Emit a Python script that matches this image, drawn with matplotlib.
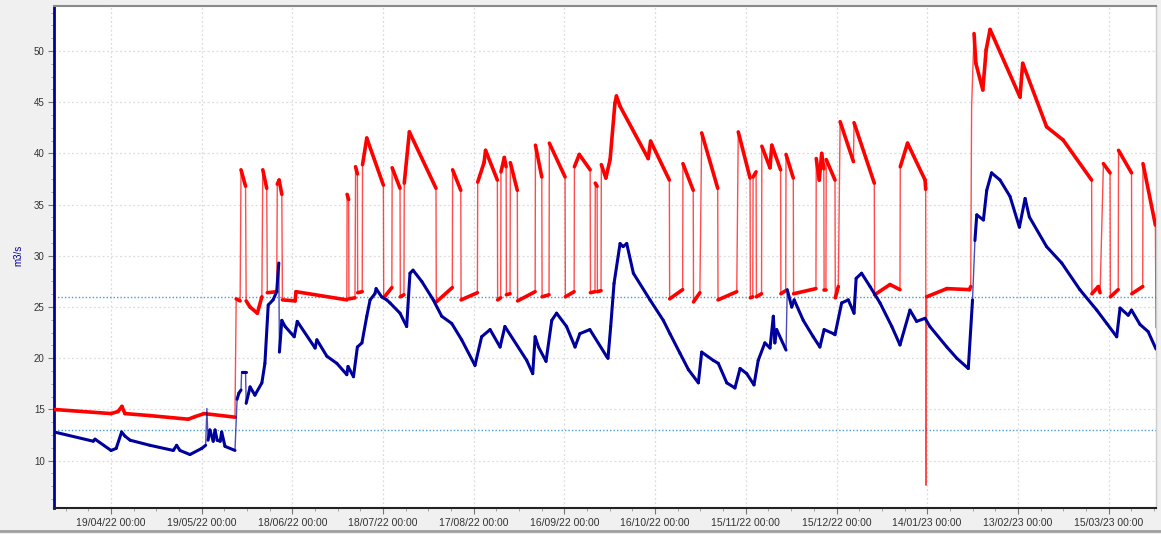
import numpy as np
import matplotlib
matplotlib.use('Agg')
import matplotlib.pyplot as plt
import matplotlib.dates as mdates
from matplotlib.collections import LineCollection
from matplotlib.ticker import MultipleLocator, FixedLocator
from matplotlib.lines import Line2D

# time axis: days after 31/03/22 00:00
start = np.datetime64('2022-03-31T00:00')

red_day = [0.24, 19.0, 21.3, 22.6, 23.6, 31.9, 44.5, 46.8, 49.8, 60.0,
           60.4, 61.7, 62.0, 63.5, 63.7, 65.0, 67.4, 68.9, 69.2, 70.5,
           70.7, 73.8, 74.0, 74.6, 75.5, 75.7, 79.9, 80.2, 97.0, 97.1,
           97.6, 97.7, 99.7, 99.9, 100.5, 100.6, 102.1, 102.2, 103.6, 109.1,
           109.2, 111.9, 112.0, 114.6, 114.7, 115.9, 116.0, 117.7, 126.5, 126.6,
           131.9, 132.0, 134.7, 134.8, 140.2, 140.3, 142.4, 142.9, 146.8, 146.9,
           147.9, 148.0, 149.1, 149.7, 149.8, 151.0, 151.1, 153.4, 153.5, 159.3,
           159.4, 161.5, 161.6, 163.9, 164.0, 169.2, 169.3, 172.2, 172.3, 173.9,
           177.5, 177.6, 179.1, 179.2, 179.8, 179.9, 181.1, 181.2, 182.7, 184.1,
           185.7, 186.2, 187.4, 196.7, 197.5, 203.7, 203.8, 208.1, 208.2, 211.6,
           211.7, 213.8, 214.4, 219.7, 219.8, 226.0, 226.5, 230.4, 230.5, 231.3,
           231.4, 232.4, 232.5, 234.2, 234.3, 237.0, 237.6, 240.5, 240.6, 242.2,
           242.3, 244.7, 244.8, 252.2, 252.3, 253.3, 254.1, 254.8, 254.9, 255.5,
           255.6, 258.5, 258.6, 259.6, 260.2, 264.6, 264.8, 271.5, 271.6, 276.7,
           280.0, 280.1, 282.5, 288.3, 288.5, 288.6, 288.8, 295.5, 303.0, 303.4,
           303.7, 304.5, 305.1, 307.4, 308.5, 309.8, 319.7, 320.6, 328.5, 334.0,
           343.4, 343.5, 345.6, 346.2, 347.3, 349.5, 349.6, 352.2, 352.3, 356.6,
           356.7, 360.3, 360.4, 364.5, 364.7]
red_val = [15.0, 14.6, 14.8, 15.3, 14.6, 14.4, 14.05, 14.3, 14.6, 14.25,
           25.8, 25.6, 38.4, 36.8, 25.6, 25.0, 24.4, 26.0, 38.4, 36.6,
           26.4, 26.5, 37.0, 37.4, 36.0, 25.7, 25.6, 26.5, 25.7, 36.0,
           35.5, 25.8, 25.9, 38.7, 38.0, 26.4, 26.5, 38.9, 41.5, 36.9,
           25.9, 26.9, 38.6, 36.6, 26.0, 26.2, 37.1, 42.1, 36.6, 25.5,
           26.9, 38.4, 36.4, 25.7, 26.4, 37.2, 39.1, 40.3, 37.4, 25.7,
           25.9, 38.2, 39.6, 38.7, 26.2, 26.3, 39.1, 36.4, 25.6, 26.5,
           40.8, 37.7, 26.0, 26.2, 41.0, 37.7, 26.0, 26.5, 38.7, 39.9,
           38.4, 26.4, 26.5, 37.1, 36.8, 26.5, 26.6, 38.9, 37.6, 39.4,
           44.9, 45.6, 44.6, 39.5, 41.2, 37.4, 25.8, 26.7, 39.0, 36.4,
           25.5, 26.4, 42.0, 36.6, 25.7, 26.5, 42.1, 37.6, 25.9, 26.0,
           37.7, 38.2, 26.0, 26.3, 40.7, 38.6, 40.8, 38.4, 26.3, 26.6,
           39.9, 37.6, 26.3, 26.8, 39.5, 37.4, 40.0, 38.5, 26.7, 26.7,
           39.4, 37.4, 25.9, 27.0, 43.1, 39.2, 43.0, 37.1, 26.2, 27.2,
           26.7, 38.7, 41.0, 37.4, 36.5, 7.6, 26.0, 26.8, 26.7, 27.0,
           44.6, 51.7, 48.8, 46.2, 50.1, 52.1, 45.5, 48.8, 42.6, 41.3,
           37.4, 26.3, 27.0, 26.4, 39.0, 38.1, 26.0, 26.7, 40.3, 38.1,
           26.3, 27.0, 39.0, 33.0, 23.0]

blue_day = [0.24, 13.1, 13.7, 19.0, 20.7, 22.5, 23.6, 25.3, 31.9, 39.6,
            40.7, 41.8, 45.1, 49.0, 50.3, 50.7, 51.1, 51.7, 52.8, 53.4,
            54.1, 55.1, 55.6, 56.7, 60.0, 60.7, 61.3, 62.0, 62.2, 63.5,
            63.7, 65.0, 66.6, 68.9, 69.9, 71.0, 72.6, 73.8, 74.5, 74.7,
            75.5, 76.6, 79.6, 80.6, 86.5, 87.1, 90.4, 93.7, 97.0, 97.4,
            99.2, 100.5, 102.0, 103.6, 104.7, 106.3, 106.7, 108.5, 110.2, 111.3,
            114.6, 116.8, 117.9, 118.9, 121.8, 125.6, 128.4, 131.7, 135.0, 139.4,
            141.6, 144.4, 147.7, 149.3, 156.5, 158.5, 159.3, 160.4, 162.9, 164.8,
            166.4, 169.7, 172.5, 174.1, 177.4, 182.9, 183.4, 184.3, 185.4, 187.4,
            188.4, 189.6, 191.8, 197.3, 201.7, 203.9, 207.2, 210.0, 213.3, 214.4,
            218.2, 219.9, 222.7, 225.4, 227.1, 229.3, 231.7, 233.1, 235.3, 237.0,
            238.1, 238.6, 239.2, 242.3, 242.7, 244.2, 245.0, 248.0, 251.3, 253.5,
            254.9, 258.0, 258.5, 260.7, 262.9, 264.8, 265.5, 267.3, 270.1, 273.4,
            277.3, 280.0, 283.3, 285.5, 288.3, 289.9, 295.5, 298.8, 302.6, 304.0,
            304.8, 305.4, 307.6, 308.7, 310.3, 313.1, 316.4, 319.5, 321.4, 322.8,
            328.5, 333.5, 339.5, 345.1, 348.4, 351.7, 352.8, 355.5, 356.6, 359.4,
            362.1, 364.7]
blue_val = [12.8, 11.9, 12.1, 11.0, 11.2, 12.8, 12.4, 12.0, 11.5, 11.0,
            11.5, 11.0, 10.6, 11.2, 11.5, 15.1, 12.0, 13.0, 11.9, 13.0,
            12.0, 11.9, 12.8, 11.4, 11.0, 16.0, 16.6, 16.9, 18.7, 18.7,
            15.6, 17.2, 16.4, 17.6, 19.5, 25.2, 25.7, 26.5, 29.3, 20.6,
            23.7, 23.1, 22.1, 23.6, 21.0, 21.8, 20.2, 19.5, 18.4, 19.2,
            18.2, 21.1, 21.5, 24.1, 25.7, 26.3, 26.8, 26.0, 25.7, 25.4,
            24.4, 23.1, 28.3, 28.6, 27.5, 25.7, 24.1, 23.4, 21.8, 19.3,
            22.1, 22.8, 21.1, 23.1, 19.8, 18.5, 22.1, 21.1, 19.7, 23.7,
            24.4, 23.1, 21.1, 22.4, 22.8, 20.2, 20.0, 23.1, 27.3, 31.2,
            30.9, 31.2, 28.3, 25.7, 23.7, 22.4, 20.5, 18.9, 17.6, 20.6,
            19.8, 19.5, 17.6, 17.1, 19.0, 18.5, 17.4, 19.8, 21.5, 21.0,
            24.1, 21.5, 22.8, 20.8, 26.7, 25.0, 25.7, 23.7, 22.1, 21.1,
            22.8, 22.4, 22.3, 25.4, 25.7, 24.4, 27.8, 28.3, 27.0, 25.4,
            23.1, 21.3, 24.7, 23.6, 23.9, 23.1, 21.1, 20.0, 19.0, 25.7,
            31.5, 34.0, 33.5, 36.4, 38.1, 37.4, 35.8, 32.8, 35.6, 33.8,
            30.9, 29.3, 26.7, 24.7, 23.4, 22.1, 24.9, 24.2, 24.7, 23.3,
            22.6, 20.9]

ref_levels = [26.0, 13.0]
first_tick = np.datetime64('2022-04-19T00:00')
n_ticks = 12

plt.rcParams['font.family'] = ['Liberation Sans', 'DejaVu Sans']

fig = plt.figure(figsize=(11.61, 5.34), dpi=100, facecolor='#f0f0f0')
ax = fig.add_axes([0.0468, 0.0481, 0.9489, 0.9412])
ax.set_facecolor('white')


def to_num(days):
    secs = (np.array(days) * 86400).astype('int64').astype('timedelta64[s]')
    return mdates.date2num(start + secs)


def draw(days, vals, color, thick, steep, z):
    x = to_num(days)
    y = np.array(vals, dtype=float)
    # thin line everywhere (fast jumps look thin in the original)
    ax.plot(x, y, color=color, lw=1.0, alpha=0.7, zorder=z)
    seg = np.stack([np.column_stack([x[:-1], y[:-1]]),
                    np.column_stack([x[1:], y[1:]])], axis=1)
    slope = np.abs(np.diff(y)) / np.diff(x)
    lc = LineCollection(seg[slope < steep], colors=color, linewidths=thick,
                        capstyle='round', joinstyle='round', zorder=z)
    ax.add_collection(lc)


for lvl in ref_levels:
    ax.axhline(lvl, color='#4a9bd6', lw=1.0, ls=(0, (1, 1.5)), zorder=2)

draw(red_day, red_val, '#ff0000', 2.6, 6.0, 3)
draw(blue_day, blue_val, '#00009c', 2.2, 6.5, 4)

ax.set_xlim(to_num([0.24])[0], to_num([364.7])[0])
ax.set_ylim(5.35, 54.42)

major = mdates.date2num(first_tick + np.arange(n_ticks) * np.timedelta64(30, 'D'))
minor = mdates.date2num(first_tick - np.timedelta64(30, 'D')) + np.arange(0, 13 * 30, 7.5)
ax.xaxis.set_major_locator(FixedLocator(major))
ax.xaxis.set_minor_locator(FixedLocator(minor))
ax.xaxis.set_major_formatter(mdates.DateFormatter('%d/%m/%y %H:%M'))
ax.yaxis.set_major_locator(MultipleLocator(5))
ax.yaxis.set_minor_locator(MultipleLocator(1.25))

ax.grid(True, which='major', color='#dcdcdc', lw=0.9, ls=(0, (1.5, 2)))
ax.tick_params(axis='both', which='major', length=4, color='#777777',
               labelsize=7.5, labelcolor='#333333', pad=3)
ax.tick_params(axis='both', which='minor', length=2.5, color='#999999')
ax.tick_params(axis='y', labelsize=7)

ax.spines['left'].set_color('#00009c')
ax.spines['left'].set_linewidth(2)
ax.spines['bottom'].set_color('#222222')
ax.spines['bottom'].set_linewidth(1.5)
ax.spines['top'].set_color('#8a8a8a')
ax.spines['top'].set_linewidth(1.5)
ax.spines['right'].set_color('#cccccc')
ax.spines['right'].set_linewidth(1)

fig.text(0.0155, 0.522, 'm3/s', rotation=90, color='#00009c', fontsize=7,
         ha='center', va='center')
fig.add_artist(Line2D([0, 1], [0.005, 0.005], transform=fig.transFigure,
                      color='#a0a0a0', lw=2))

fig.savefig('out.png', dpi=100, facecolor=fig.get_facecolor())
